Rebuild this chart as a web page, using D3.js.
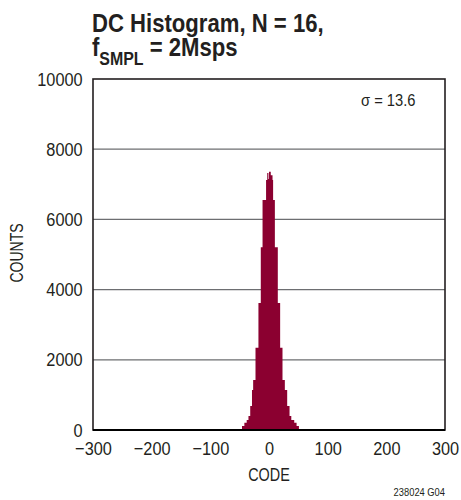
<!DOCTYPE html>
<html>
<head>
<meta charset="utf-8">
<script src="https://cdn.jsdelivr.net/npm/d3@7"></script>
<style>
	body { margin: 0; background: #fff; }
	text { font-family: "Liberation Sans", Arial, sans-serif; fill: #231f20; }
</style>
</head>
<body>
<svg id="svg-hist"></svg>
<script>
/*=================
=== The data
=================*/
// histogram bins, edges in codes
var binLo = [-46, -42, -38, -35, -32, -29, -27, -23, -18, -14, -11, -5, -3, -1, 0, 3, 6, 7, 10, 15, 19, 23, 27, 31, 35, 38, 43, 47];
var binHi = [-42, -38, -35, -32, -29, -27, -23, -18, -14, -11, -5, -3, -1, 0, 3, 6, 7, 10, 15, 19, 23, 27, 31, 35, 38, 43, 47, 51];
var counts = [115, 210, 285, 400, 685, 1140, 1425, 2340, 3620, 5210, 6550, 7120, 7320, 7150, 7360, 7260, 7120, 6550, 5210, 3620, 2340, 1425, 1140, 685, 400, 285, 210, 115];

var xTicks = [-300, -200, -100, 0, 100, 200, 300];
var yTicks = [0, 2000, 4000, 6000, 8000, 10000];

/*=================
=== The vars
=================*/
var width = 461, height = 500;
var margin = { top: 79, right: 16, bottom: 70, left: 93 };
var plotW = width - margin.left - margin.right;
var plotH = height - margin.top - margin.bottom;

var svg = d3.select('#svg-hist')
	.attr('width', width)
	.attr('height', height);

var x = d3.scaleLinear().domain([-300, 300]).range([0, plotW]);
var y = d3.scaleLinear().domain([0, 10000]).range([plotH, 0]);

// step outline points: one per bin left edge, plus the last right edge
var steps = binLo.map(function (lo, i) { return { c: lo, n: counts[i] }; });
steps.push({ c: binHi[binHi.length - 1], n: counts[counts.length - 1] });

// narrow (condensed look) text placed at x,y
function narrow(sel, px, py, sx) {
	return sel.attr('transform', 'translate(' + px + ',' + py + ') scale(' + sx + ',1)');
}

// title
var title = narrow(svg.append('text'), 92, 32, 0.885)
	.style('font-size', '25px')
	.style('font-weight', 'bold');
title.append('tspan').text('DC Histogram, N = 16,');
var t2 = narrow(svg.append('text'), 92, 56, 0.885)
	.style('font-size', '25px')
	.style('font-weight', 'bold');
t2.append('tspan').text('f');
t2.append('tspan').attr('dy', 9).style('font-size', '18px').text('SMPL');
t2.append('tspan').attr('dy', -9).text(' = 2Msps');

var g = svg.append('g')
	.attr('transform', 'translate(' + margin.left + ',' + margin.top + ')');

// grid
g.selectAll('.grid')
	.data(yTicks.filter(function (d) { return d > 0 && d < 10000; }))
	.enter().append('line')
	.attr('x1', 0).attr('x2', plotW)
	.attr('y1', function (d) { return y(d); })
	.attr('y2', function (d) { return y(d); })
	.attr('stroke', '#6d6e71')
	.attr('stroke-width', 1.3);

// histogram
var histArea = d3.area()
	.curve(d3.curveStepAfter)
	.x(function (d) { return x(d.c); })
	.y0(y(0))
	.y1(function (d) { return y(d.n); });

g.append('path')
	.datum(steps)
	.attr('d', histArea)
	.attr('fill', '#8b0030');

// frame
g.append('rect')
	.attr('width', plotW).attr('height', plotH)
	.attr('fill', 'none')
	.attr('stroke', '#231f20')
	.attr('stroke-width', 1.6);
g.append('line')
	.attr('x1', 0).attr('x2', plotW)
	.attr('y1', plotH).attr('y2', plotH)
	.attr('stroke', '#000')
	.attr('stroke-width', 2);

// axes
var xAxis = g.append('g')
	.attr('transform', 'translate(0,' + plotH + ')')
	.call(d3.axisBottom(x).tickValues(xTicks).tickSize(0).tickPadding(12)
		.tickFormat(function (d) { return String(d).replace('-', '\u2212'); }));
var yAxis = g.append('g')
	.call(d3.axisLeft(y).tickValues(yTicks).tickSize(0).tickPadding(12)
		.tickFormat(d3.format('d')));
[xAxis, yAxis].forEach(function (a) {
	a.select('.domain').remove();
	a.selectAll('text')
		.attr('font-family', null)
		.attr('fill', null)
		.attr('transform', 'scale(0.86,1)')
		.style('font-size', '19px');
});

// labels
narrow(svg.append('text'), margin.left + x(0), 481, 0.8)
	.attr('text-anchor', 'middle')
	.style('font-size', '18px')
	.text('CODE');
svg.append('text')
	.attr('transform', 'translate(23,253) rotate(-90) scale(0.78,1)')
	.attr('text-anchor', 'middle')
	.style('font-size', '18px')
	.text('COUNTS');
narrow(svg.append('text'), 361, 106, 0.92)
	.style('font-size', '16px')
	.text('\u03c3 = 13.6');
narrow(svg.append('text'), 445, 496, 0.85)
	.attr('text-anchor', 'end')
	.style('font-size', '11px')
	.text('238024 G04');
</script>
</body>
</html>
